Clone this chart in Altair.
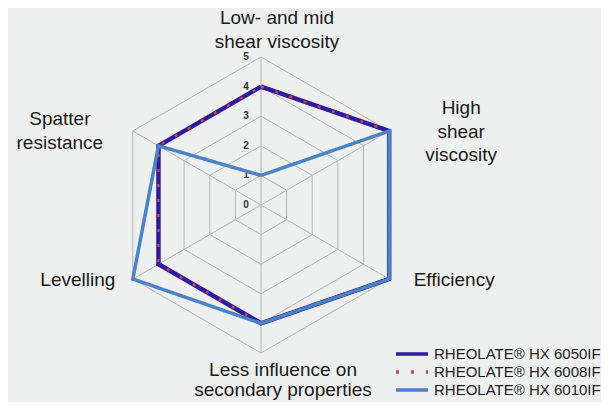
import altair as alt
import pandas as pd

# ---------------- data ----------------
axis_labels = [
    "Low- and mid\nshear viscosity",
    "High\nshear\nviscosity",
    "Efficiency",
    "Less influence on\nsecondary properties",
    "Levelling",
    "Spatter\nresistance",
]
series_names = ["RHEOLATE® HX 6050IF", "RHEOLATE® HX 6008IF", "RHEOLATE® HX 6010IF"]
values_6050 = [4, 5, 5, 4, 4, 4]
values_6008 = [4, 5, 5, 4, 4, 4]
values_6010 = [1, 5, 5, 4, 5, 4]
levels = [0, 1, 2, 3, 4, 5]
colors = ["#2e1b9d", "#d9453c", "#4a84c4"]

# ---------------- layout ----------------
W, H = 593, 394
UNIT = 29.6
CX, CY = 253, 197
xdom = [-CX / UNIT, (W - CX) / UNIT]
ydom = [-(H - CY) / UNIT, CY / UNIT]
FONT = "Liberation Sans"

rows = []
for name, vals in zip(series_names, [values_6050, values_6008, values_6010]):
    for k in range(7):
        rows.append({"series": name, "idx": k % 6, "order": k, "value": vals[k % 6]})
series_df = pd.DataFrame(rows)

grid_df = pd.DataFrame(
    [{"level": l, "idx": k % 6, "order": k} for l in levels[1:] for k in range(7)]
)
spoke_df = pd.DataFrame({"idx": list(range(6)), "r": [levels[-1]] * 6})
tick_df = pd.DataFrame({"level": levels, "label": [str(l) for l in levels]})
label_df = pd.DataFrame({"idx": list(range(6)), "label": axis_labels, "r": [levels[-1]] * 6})

xs = alt.Scale(domain=xdom, nice=False, zero=False)
ys = alt.Scale(domain=ydom, nice=False, zero=False)


def polar(chart, rfield):
    return chart.transform_calculate(
        px=f"datum.{rfield} * sin(datum.idx * PI / 3)",
        py=f"datum.{rfield} * cos(datum.idx * PI / 3)",
    )


X = alt.X("px:Q", scale=xs, axis=None)
Y = alt.Y("py:Q", scale=ys, axis=None)

grid = polar(alt.Chart(grid_df), "level").mark_line(
    color="#b5b5b5", strokeWidth=1
).encode(x=X, y=Y, detail="level:N", order="order:Q")

spokes = polar(alt.Chart(spoke_df), "r").mark_rule(
    color="#b5b5b5", strokeWidth=1
).encode(x=alt.X("zx:Q", scale=xs, axis=None), y=alt.Y("zy:Q", scale=ys, axis=None),
         x2="px:Q", y2="py:Q").transform_calculate(zx="0", zy="0")

ticks = alt.Chart(tick_df).mark_text(
    font=FONT, fontSize=10, fontWeight="bold", color="#333333", dx=-15, baseline="middle"
).encode(
    x=alt.X("zx:Q", scale=xs, axis=None),
    y=alt.Y("level:Q", scale=ys, axis=None),
    text="label:N",
).transform_calculate(zx="0")

color_enc = alt.Color(
    "series:N",
    scale=alt.Scale(domain=series_names, range=colors),
    legend=alt.Legend(
        title=None,
        orient="none",
        legendX=394,
        legendY=336,
        symbolType="M-2,0H2",
        symbolSize=256,
        symbolStrokeWidth=3.5,
        labelFont=FONT,
        labelFontSize=15,
        labelColor="#222222",
        labelOffset=12,
        labelLimit=0,
        rowPadding=0,
    ),
)
dash_enc = alt.StrokeDash(
    "series:N",
    scale=alt.Scale(domain=series_names, range=[[1, 0], [3, 12], [1, 0]]),
    legend=None,
)

widths = [4.5, 2.2, 3.5]
series_layers = []
for name, w in zip(series_names, widths):
    series_layers.append(
        polar(alt.Chart(series_df), "value")
        .transform_filter(alt.datum.series == name)
        .mark_line(strokeWidth=w, strokeJoin="miter")
        .encode(x=X, y=Y, color=color_enc, strokeDash=dash_enc, order="order:Q")
    )

label_offsets = [(16, -39, 23.5), (72, -23, 23.5), (65, 1, 23.5),
                 (22, 17, 20), (-55, 1, 23.5), (-73, -12, 23.5)]
label_layers = []
for i, (dx, dy, lh) in enumerate(label_offsets):
    label_layers.append(
        polar(alt.Chart(label_df), "r")
        .transform_filter(alt.datum.idx == i)
        .mark_text(
            font=FONT, fontSize=19, color="#1a1a1a", lineBreak="\n",
            lineHeight=lh, align="center", baseline="middle", dx=dx, dy=dy,
        )
        .encode(x=X, y=Y, text="label:N")
    )

chart = alt.layer(grid, spokes, ticks, *series_layers, *label_layers).properties(
    width=W, height=H, padding=0, autosize=alt.AutoSizeParams(type="none"),
    background="#eeefef",
).configure_view(stroke=None)

chart.save("out.html", embed_options={"renderer": "svg", "actions": False})
